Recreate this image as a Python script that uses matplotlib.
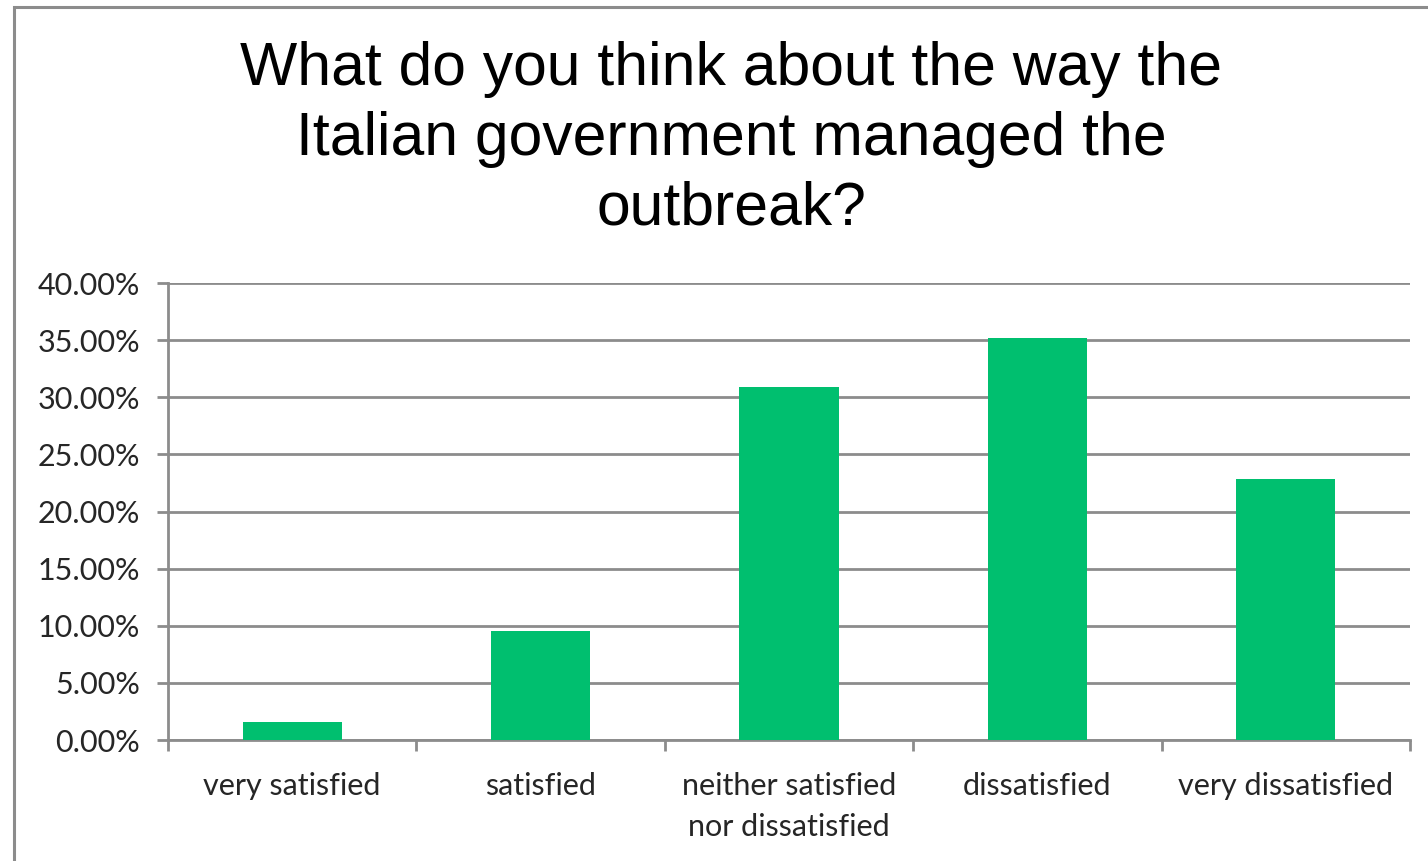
import matplotlib
matplotlib.use("Agg")
import matplotlib.pyplot as plt
from matplotlib.patches import Rectangle
from matplotlib.ticker import PercentFormatter, MultipleLocator
import numpy as np

# Survey answers and share of respondents (%)
categories = ["very satisfied", "satisfied", "neither satisfied\nnor dissatisfied",
              "dissatisfied", "very dissatisfied"]
shares = [1.6, 9.55, 30.9, 35.15, 22.85]

title = "What do you think about the way the\nItalian government managed the\noutbreak?"

bar_color = "#00BF6F"
grid_color = "#8C8C8C"
text_color = "#262626"

fig = plt.figure(figsize=(14.28, 8.61), dpi=100)
ax = fig.add_axes([168/1428, 1-740/861, (1410-168)/1428, (740-283)/861])

x = np.arange(len(categories))
ax.bar(x, shares, width=0.4, color=bar_color, zorder=3)

ax.set_xlim(-0.5, len(categories)-0.5)
ax.set_ylim(0, 40)
ax.yaxis.set_major_locator(MultipleLocator(5))
ax.yaxis.set_major_formatter(PercentFormatter(decimals=2))
ax.grid(axis="y", color=grid_color, linewidth=2.0, zorder=0)

# category ticks sit on the boundaries, labels in between
ax.set_xticks(np.arange(len(categories)+1)-0.5)
ax.set_xticklabels([])
ax.set_xticks(x, minor=True)
ax.set_xticklabels(categories, minor=True)
ax.tick_params(axis="x", which="major", length=8, width=2, color=grid_color, direction="out")
ax.tick_params(axis="x", which="minor", length=0, pad=23, labelsize=22, labelcolor=text_color)
ax.tick_params(axis="y", length=8, width=2, color=grid_color, pad=12,
               labelsize=22, labelcolor=text_color)
for lab in ax.get_xticklabels(minor=True) + ax.get_yticklabels():
    lab.set_fontfamily("Lato")
for lab in ax.get_xticklabels(minor=True):
    lab.set_linespacing(1.55)

for side in ["top", "right"]:
    ax.spines[side].set_visible(False)
for side in ["left", "bottom"]:
    ax.spines[side].set_color(grid_color)
    ax.spines[side].set_linewidth(2)

fig.text(731/1428, 1-41/861, title, ha="center", va="top", fontsize=43.7,
         family="Liberation Sans", color="black", linespacing=1.29)

# chart frame
fig.add_artist(Rectangle((14/1428, -0.05), 1.05, 1-7/861+0.05, transform=fig.transFigure,
                         fill=False, edgecolor=grid_color, linewidth=2.2, clip_on=False))

fig.savefig("out.png", dpi=100)
